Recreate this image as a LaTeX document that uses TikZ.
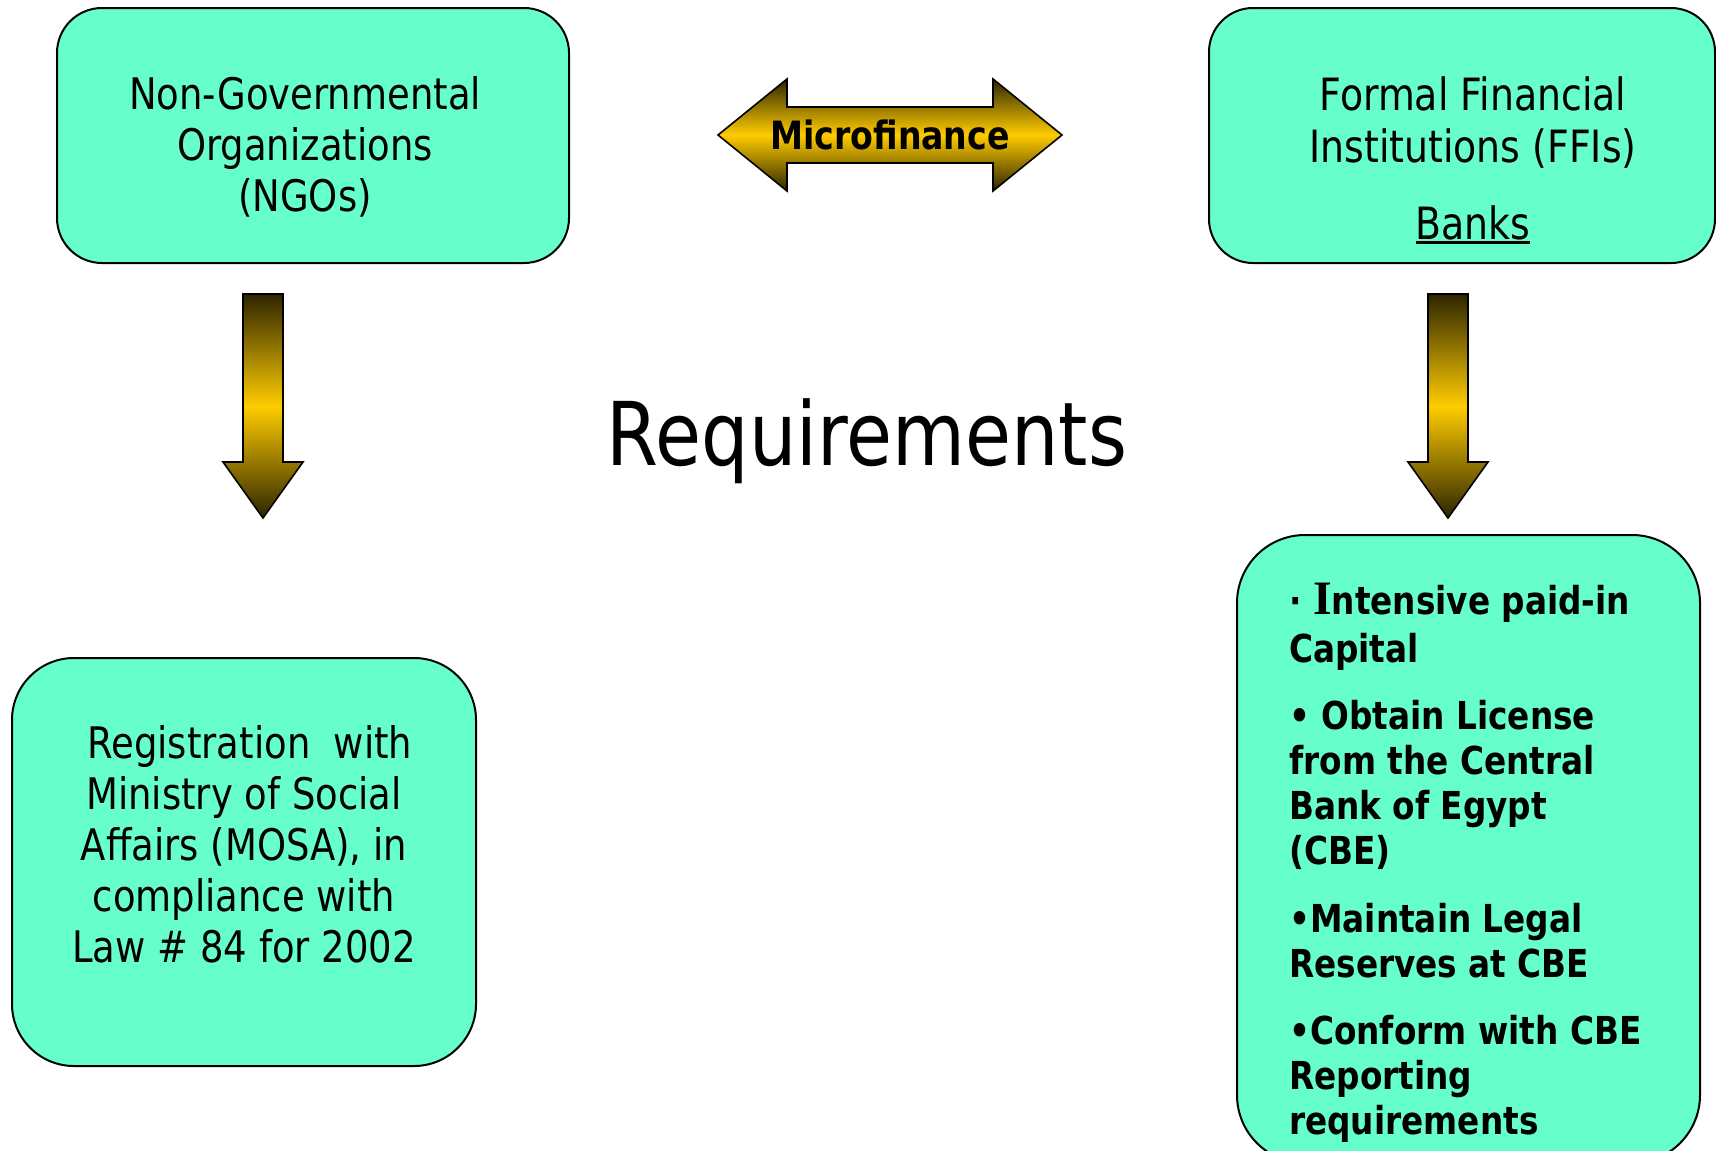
\documentclass[tikz,border=0pt]{standalone}
\usepackage{fontspec}
\setmainfont{DejaVu Sans}[FakeStretch=0.85]
\newfontfamily\serifI{Liberation Serif}
\definecolor{boxfill}{HTML}{66FFCC}
\definecolor{gold}{HTML}{FFCC00}
\definecolor{darkgold}{RGB}{45,36,0}
\newcommand\myul[1]{\setbox0\hbox{#1}\rlap{\rule[-5pt]{\wd0}{2.6pt}}\box0}
\begin{document}
\begin{tikzpicture}[x=1pt,y=-1pt,
  box/.style={draw=black, line width=2pt, fill=boxfill, rounded corners=#1, inner sep=0pt},
  box/.default=45pt,
  blockarrow/.style={draw=black, line width=1.6pt, line join=miter, top color=darkgold, bottom color=darkgold, middle color=gold},
  txt/.style={inner sep=0pt, anchor=base, font=\fontsize{43.5}{51}\selectfont},
  boldtxt/.style={inner sep=0pt, anchor=base west, font=\fontsize{38.5}{45}\selectfont\bfseries}]
\fill[white] (0,0) rectangle (1716,1151);
\useasboundingbox (0,0) rectangle (1716,1151);

% boxes
\node[box=45pt, minimum width=512pt, minimum height=255pt] (ngo) at (313,135.5) {};
\node[box=44pt, minimum width=506pt, minimum height=255pt] (ffi) at (1462,135.5) {};
\node[box=62pt, minimum width=464pt, minimum height=408pt] (mosa) at (244,862) {};
\node[box=68pt, minimum width=463pt, minimum height=628pt] (cbe) at (1468.5,849) {};

% texts in boxes
\node[txt] (ngotext) at (305,109) {\begin{tabular}[t]{@{}c@{}}Non-Governmental\\Organizations\\(NGOs)\end{tabular}};
\node[txt, font=\fontsize{44.5}{52}\selectfont] (ffitext) at (1473,110) {\begin{tabular}[t]{@{}c@{}}Formal Financial\\Institutions (FFIs)\\[25pt]\myul{Banks}\end{tabular}};
\node[txt] (mosatext) at (244,758) {\begin{tabular}[t]{@{}c@{}}\ Registration\ \ with\\Ministry of Social\\Affairs (MOSA), in\\compliance with\\Law \# 84 for 2002\end{tabular}};
\node[boldtxt] (cbetext) at (1289,614) {\begin{tabular}[t]{@{}l@{}}·\ {\serifI\fontsize{48}{45}\selectfont I}ntensive paid-in\\[3pt]
Capital\\[22pt]
• Obtain License\\
from the Central\\
Bank of Egypt\\
(CBE)\\[23pt]
•Maintain Legal\\
Reserves at CBE\\[22pt]
•Conform with CBE\\
Reporting\\
requirements\end{tabular}};

% microfinance double arrow
\path[blockarrow] (718,135) -- (787,79) -- (787,107) -- (993,107) -- (993,79) -- (1062,135) -- (993,191) -- (993,163) -- (787,163) -- (787,191) -- cycle;
\node[inner sep=0pt, anchor=base, font=\fontsize{39}{45}\selectfont\bfseries] (mf) at (890,149.5) {Microfinance};

% down arrows
\path[blockarrow] (243,294) -- (283,294) -- (283,462) -- (303,462) -- (263,518) -- (223,462) -- (243,462) -- cycle;
\path[blockarrow] (1428,294) -- (1468,294) -- (1468,462) -- (1488,462) -- (1448,518) -- (1408,462) -- (1428,462) -- cycle;

% title
\node[inner sep=0pt, anchor=base, font=\fontsize{88}{100}\selectfont] (req) at (867,465) {Requirements};
\end{tikzpicture}
\end{document}
